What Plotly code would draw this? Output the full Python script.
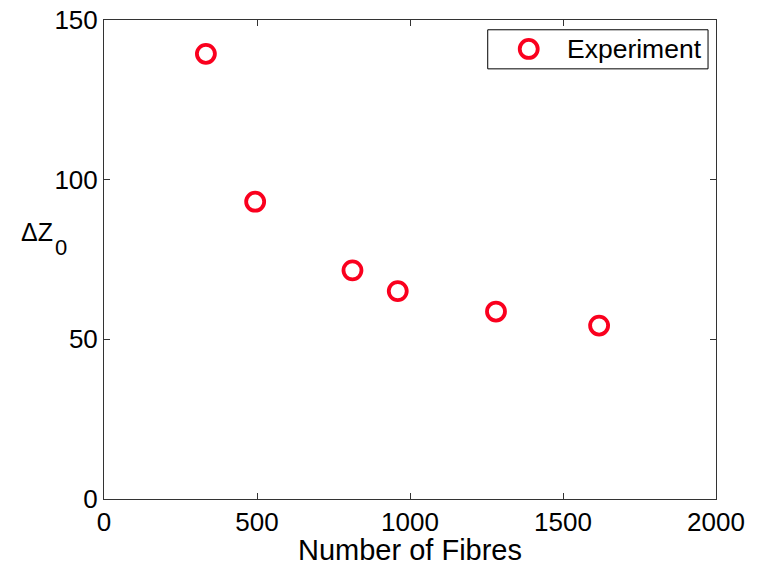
import plotly.graph_objects as go

fibres = [333, 494, 812, 960, 1281, 1618]
delta_z0 = [139.4, 93.1, 71.6, 65.1, 58.7, 54.3]
x_ticks = [0, 500, 1000, 1500, 2000]
y_ticks = [0, 50, 100, 150]
series_name = "Experiment"

FONT = "Liberation Sans, Arial, Helvetica, sans-serif"
RED = "rgb(250,0,30)"
AX = "#333333"
FS = 26

fig = go.Figure()
fig.add_trace(go.Scatter(
    x=fibres, y=delta_z0, mode="markers", name=series_name, showlegend=False,
    marker=dict(symbol="circle-open", size=18, color=RED, line=dict(width=3.8, color=RED)),
))

common = dict(showgrid=False, zeroline=False, showline=True, linecolor=AX, linewidth=1,
              mirror="ticks", ticks="inside", ticklen=6, tickcolor=AX, automargin=False,
              tickfont=dict(family=FONT, size=FS, color="black"))
fig.update_xaxes(range=[0, 2000], tickvals=x_ticks, ticktext=[str(v) for v in x_ticks],
                 title=dict(text="Number of Fibres", font=dict(family=FONT, size=29, color="black"), standoff=2),
                 **common)
fig.update_yaxes(range=[0, 150], tickvals=y_ticks, ticktext=[str(v) for v in y_ticks], **common)

# y-axis label: ΔZ with a lowered subscript 0
fig.add_annotation(text="ΔZ", xref="paper", yref="paper", x=-0.0795, y=0.5579,
                   xanchor="right", yanchor="middle", showarrow=False,
                   font=dict(family=FONT, size=25, color="black"))
fig.add_annotation(text="0", xref="paper", yref="paper", x=-0.0826, y=0.525,
                   xanchor="left", yanchor="middle", showarrow=False,
                   font=dict(family=FONT, size=22, color="black"))

# legend box drawn manually
fig.add_shape(type="rect", xref="paper", yref="paper", x0=0.627, x1=0.987, y0=0.898, y1=0.9796,
              line=dict(color="black", width=1), fillcolor="white", layer="above")
fig.add_shape(type="circle", xref="paper", yref="paper", xsizemode="pixel", ysizemode="pixel",
              xanchor=0.694, yanchor=0.9396, x0=-9, x1=9, y0=-9, y1=9,
              line=dict(color=RED, width=3.8), layer="above")
fig.add_annotation(text=series_name, xref="paper", yref="paper", x=0.754, y=0.9396,
                   xanchor="left", yanchor="middle", showarrow=False,
                   font=dict(family=FONT, size=26.5, color="black"))

fig.update_layout(
    width=760, height=566,
    margin=dict(l=103.5, r=43.5, t=19.5, b=66.5),
    paper_bgcolor="white", plot_bgcolor="white",
    showlegend=False,
)

fig.write_html("out.html")
